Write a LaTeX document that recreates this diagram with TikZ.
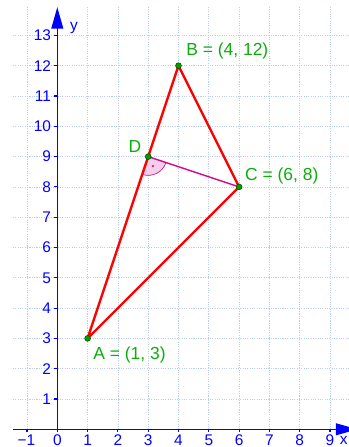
\documentclass[tikz,border=0pt]{standalone}
\usepackage{fontspec}
\setmainfont{Liberation Sans}
\usetikzlibrary{arrows.meta}
\definecolor{axblue}{rgb}{0,0,1}
\definecolor{gridblue}{rgb}{0.72,0.80,0.97}
\definecolor{ptgreen}{rgb}{0,0.62,0}
\definecolor{lblgreen}{rgb}{0.05,0.68,0.05}
\definecolor{trired}{rgb}{1,0,0}
\definecolor{segmag}{rgb}{0.80,0.05,0.55}
\tikzset{
  gridline/.style={draw=gridblue, line width=0.6pt, dash pattern=on 1pt off 1.2pt},
  axisline/.style={draw=axblue, line width=1.4pt},
  axisarrow/.style={axisline, -{Triangle[length=20pt,width=11pt]}},
  tickline/.style={draw=axblue, line width=1pt},
  axnum/.style={text=axblue, font=\fontsize{14.5}{17}\selectfont, inner sep=0pt},
  ptlabel/.style={text=lblgreen, font=\fontsize{16.4}{19}\selectfont, inner sep=0pt},
  triedge/.style={draw=trired, line width=2.2pt, line join=round},
  altseg/.style={draw=segmag, line width=1.3pt},
  ptdot/.style={circle, fill=ptgreen, draw=black!70!green, line width=0.5pt, minimum size=5.5pt, inner sep=0pt},
}
\begin{document}
\begin{tikzpicture}[x=1cm,y=1cm]
\useasboundingbox (-1.891,-0.584) rectangle (9.627,14.168);
\clip (-1.891,-0.584) rectangle (9.627,14.168);
% grid
\foreach \x in {-1,...,9} \draw[gridline] (\x,0) -- (\x,13.97);
\foreach \y in {1,...,13} \draw[gridline] (-1.46,\y) -- (9.627,\y);
% axes
\coordinate (O) at (0,0);
\coordinate (xs) at (-1.46,0);
\coordinate (xe) at (9.9,0);
\coordinate (ye) at (0,13.93);
\draw[axisarrow] (xs) -- (xe);
\draw[axisarrow] (O) -- (ye);
\foreach \x in {-1,...,9} \draw[tickline] (\x,0) -- (\x,-0.1);
\foreach \y in {1,...,13} \draw[tickline] (0,\y) -- (-0.1,\y);
\foreach \x in {0,...,9} \node[axnum] (xl\x) at (\x,-0.37) {\x};
\node[axnum] (xlm1) at (-1.02,-0.37) {−1};
\foreach \y in {1,...,13} \node[axnum, anchor=east] (yl\y) at (-0.2,\y) {\y};
\node[axnum] (xlab) at (9.45,-0.37) {x};
\node[axnum] (ylab) at (0.55,13.25) {y};
% points
\coordinate (A) at (1,3);
\coordinate (B) at (4,12);
\coordinate (C) at (6,8);
\coordinate (D) at (3,9);
% right angle mark
\fill[segmag!20] (D) -- ++(-18.43:0.62) arc[start angle=-18.43, end angle=-108.43, radius=0.62] -- cycle;
\draw[segmag, line width=0.6pt] ([shift={(-18.43:0.62)}]D) arc[start angle=-18.43, end angle=-108.43, radius=0.62];
\fill[segmag] ([shift={(-63.43:0.35)}]D) circle (0.04);
% triangle and altitude
\draw[altseg] (D) -- (C);
\draw[triedge] (A) -- (B) -- (C) -- cycle;
\node[ptdot] (pA) at (A) {};
\node[ptdot] (pB) at (B) {};
\node[ptdot] (pC) at (C) {};
\node[ptdot] (pD) at (D) {};
% labels
\node[ptlabel, anchor=west] (lA) at (1.18,2.46) {A = (1, 3)};
\node[ptlabel, anchor=west] (lB) at (4.25,12.48) {B = (4, 12)};
\node[ptlabel, anchor=west] (lC) at (6.19,8.37) {C = (6, 8)};
\node[ptlabel] (lD) at (2.56,9.32) {D};
\end{tikzpicture}
\end{document}
